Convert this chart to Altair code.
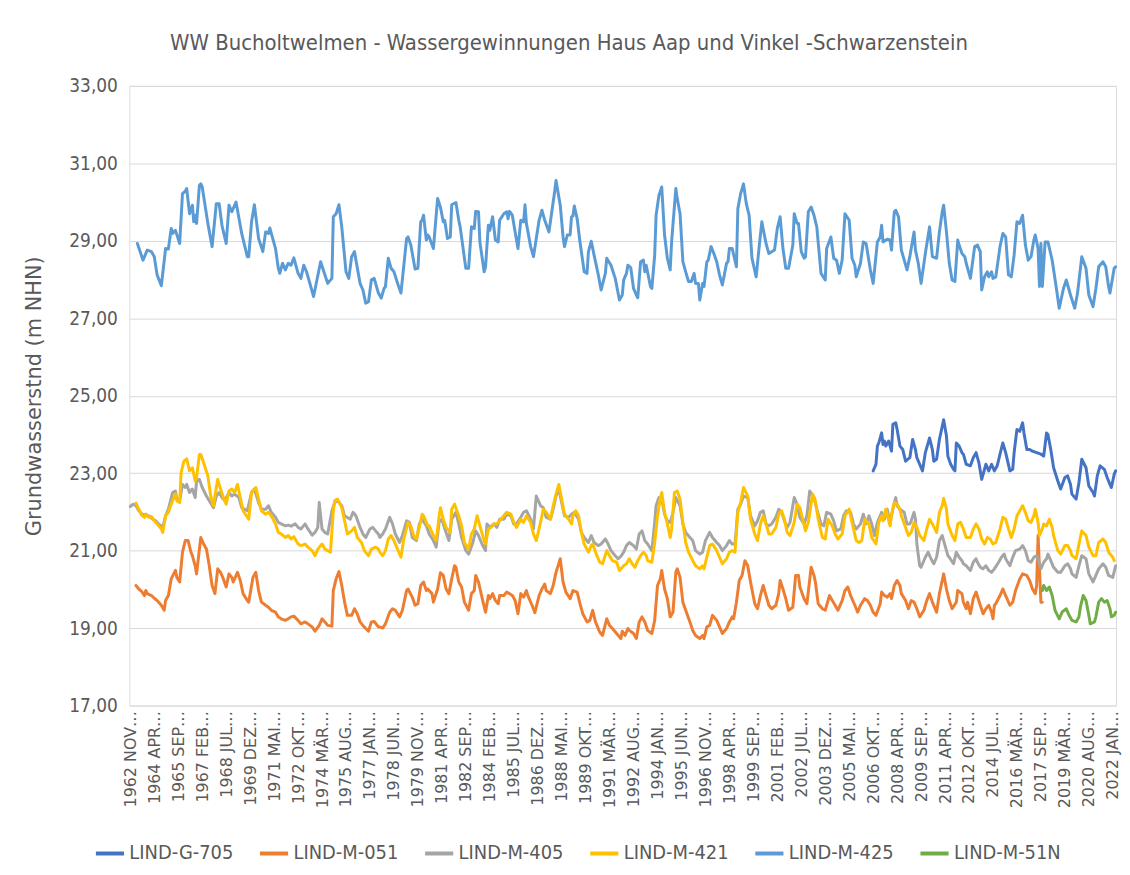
import altair as alt
import pandas as pd

TITLE = "WW Bucholtwelmen - Wassergewinnungen Haus Aap und Vinkel -Schwarzenstein"
Y_TITLE = "Grundwasserstnd (m NHN)"

X_LABELS = [
    "1962 NOV…", "1964 APR…", "1965 SEP…", "1967 FEB…", "1968 JUL…", "1969 DEZ…",
    "1971 MAI…", "1972 OKT…", "1974 MÄR…", "1975 AUG…", "1977 JAN…", "1978 JUN…",
    "1979 NOV…", "1981 APR…", "1982 SEP…", "1984 FEB…", "1985 JUL…", "1986 DEZ…",
    "1988 MAI…", "1989 OKT…", "1991 MÄR…", "1992 AUG…", "1994 JAN…", "1995 JUN…",
    "1996 NOV…", "1998 APR…", "1999 SEP…", "2001 FEB…", "2002 JUL…", "2003 DEZ…",
    "2005 MAI…", "2006 OKT…", "2008 APR…", "2009 SEP…", "2011 APR…", "2012 OKT…",
    "2014 JUL…", "2016 MÄR…", "2017 SEP…", "2019 MÄR…", "2020 AUG…", "2022 JAN…",
]
LABEL_STEP = 17  # every 17th measurement is labelled

SERIES = ["LIND-G-705", "LIND-M-051", "LIND-M-405", "LIND-M-421", "LIND-M-425", "LIND-M-51N"]
COLORS = ["#4472C4", "#ED7D31", "#A5A5A5", "#FFC000", "#5B9BD5", "#70AD47"]

# (measurement index, groundwater level m NHN)
G705 = [(527,23.06),(529,23.23),(530,23.70),(531,23.78),(533,24.04),(534,23.74),(535,23.83),(536,23.70),(538,23.83),(540,23.57),(541,24.26),(543,24.30),(544,24.13),(546,23.70),(548,23.61),(550,23.31),(553,23.40),(555,23.87),(557,23.61),(558,23.40),(560,23.23),(562,23.06),(564,23.53),(566,23.78),(567,23.91),(569,23.61),(570,23.31),(572,23.36),(574,23.87),(576,24.21),(577,24.38),(579,23.96),(580,23.44),(582,23.23),(584,23.10),(585,23.06),(586,23.78),(588,23.70),(590,23.53),(591,23.49),(593,23.23),(596,23.19),(598,23.40),(600,23.53),(602,23.27),(604,22.84),(605,22.97),(607,23.23),(609,23.06),(611,23.23),(613,23.06),(615,23.19),(617,23.49),(619,23.78),(621,23.53),(624,23.06),(626,23.10),(627,23.53),(629,24.13),(631,24.08),(633,24.30),(634,24.04),(636,23.61),(638,23.61),(640,23.57),(643,23.53),(646,23.49),(648,23.44),(650,24.04),(651,24.00),(653,23.61),(655,23.14),(658,22.80),(660,22.59),(663,22.89),(665,22.93),(667,22.71),(668,22.46),(671,22.33),(673,22.76),(675,23.36),(678,23.14),(680,22.67),(683,22.50),(684,22.41),(686,22.93),(688,23.19),(691,23.10),(693,22.89),(695,22.71),(696,22.63),(698,22.97),(699,23.06)]

M051 = [(4,20.10),(6,20.01),(8,19.95),(10,19.84),(11,19.97),(12,19.89),(15,19.84),(17,19.77),(19,19.71),(22,19.59),(24,19.46),(25,19.71),(27,19.84),(29,20.27),(32,20.49),(33,20.31),(35,20.19),(37,20.96),(39,21.26),(41,21.26),(43,20.96),(44,20.87),(46,20.61),(47,20.40),(49,21.04),(50,21.34),(52,21.17),(54,21.04),(56,20.61),(58,20.10),(60,19.89),(62,20.53),(64,20.44),(66,20.27),(68,20.06),(70,20.40),(72,20.31),(73,20.19),(76,20.44),(78,20.23),(80,19.89),(83,19.71),(84,19.67),(87,20.31),(89,20.44),(91,19.97),(93,19.67),(96,19.59),(98,19.54),(100,19.46),(103,19.41),(105,19.29),(107,19.24),(110,19.20),(112,19.24),(114,19.29),(116,19.31),(119,19.20),(121,19.11),(124,19.16),(126,19.11),(129,19.03),(131,18.92),(134,19.07),(136,19.24),(138,19.16),(140,19.07),(143,19.05),(144,19.97),(146,20.27),(148,20.46),(150,20.10),(152,19.67),(154,19.33),(157,19.33),(159,19.50),(161,19.37),(163,19.16),(165,19.07),(167,18.99),(169,18.92),(171,19.16),(173,19.17),(176,19.03),
        (177,19.03),(179,19.00),(181,19.11),(184,19.41),(186,19.50),(188,19.46),(191,19.29),(193,19.46),(196,19.97),(197,20.01),(200,19.80),(202,19.59),(204,19.63),(206,20.10),(208,20.19),(210,19.97),(211,20.01),(214,19.89),(215,19.67),(218,20.01),(220,20.43),(222,20.36),(224,20.01),(226,19.89),(228,20.27),(230,20.61),(231,20.57),(233,20.19),(235,20.06),(237,19.67),(240,19.46),(242,19.89),(244,19.97),(245,20.36),(247,20.19),(250,19.71),(252,19.41),(254,19.84),(255,19.76),(257,19.89),(259,19.71),(261,19.63),(262,19.84),(265,19.84),(267,19.93),(269,19.89),(271,19.84),(273,19.71),(275,19.37),(277,19.89),(279,19.80),(281,19.97),(282,19.84),(285,19.59),(287,19.40),(290,19.84),(292,20.01),(294,20.14),(295,19.97),(298,19.89),(300,20.10),(302,20.44),(305,20.79),(307,20.19),(309,19.93),(312,19.76),(314,19.97),(317,19.93),(319,19.63),(321,19.37),(324,19.16),(326,19.20),(328,19.46),(330,19.16),(333,18.90),(335,18.81),(338,19.24),(340,19.07),(342,18.99),(345,18.86),(348,18.73),
        (349,18.92),(351,18.81),(353,18.99),(354,18.94),(357,18.86),(359,18.73),(361,19.16),(363,19.29),(365,19.16),(367,18.94),(370,18.86),(372,19.20),(374,20.10),(376,20.27),(377,20.49),(379,20.01),(381,19.76),(383,19.29),(385,19.41),(387,20.44),(388,20.53),(390,20.31),(392,19.67),(394,19.46),(397,19.16),(399,18.94),(401,18.81),(404,18.73),(406,18.81),(407,18.73),(409,19.03),(411,19.07),(413,19.33),(416,19.20),(418,19.03),(420,18.86),(423,18.99),(425,19.16),(427,19.29),(428,19.24),(430,19.67),(432,20.23),(434,20.36),(436,20.74),(438,20.61),(440,20.19),(443,19.63),(445,19.50),(447,19.84),(449,20.10),(451,19.84),(453,19.59),(455,19.50),(458,19.59),(460,19.89),(461,20.23),(463,20.01),(465,19.76),(467,19.46),(470,19.54),(472,20.36),(474,20.36),(475,20.06),(478,19.76),(480,19.63),(483,20.57),(485,20.36),(486,20.19),(488,19.63),(491,19.50),(493,19.46),(496,19.84),(498,19.71),(500,19.59),(502,19.46),(505,19.71),(507,19.97),(509,20.06),(511,19.84),(514,19.59),(516,19.41),(518,19.59),(521,19.76),
        (523,19.71),(525,19.59),(527,19.41),(529,19.33),(532,19.63),(533,19.93),(535,19.84),(537,19.80),(539,19.89),(540,19.76),(542,20.10),(544,20.23),(546,20.10),(547,19.89),(550,19.71),(552,19.50),(554,19.71),(556,19.67),(558,19.50),(560,19.29),(563,19.46),(565,19.71),(567,19.89),(569,19.67),(572,19.41),(574,19.89),(576,20.23),(577,20.40),(579,20.01),(581,19.71),(583,19.50),(586,19.67),(587,19.97),(590,19.89),(591,19.67),(593,19.50),(594,19.67),(596,19.37),(598,19.76),(600,19.93),(603,19.59),(605,19.37),(607,19.50),(609,19.59),(611,19.41),(612,19.24),(613,19.59),(614,19.63),(617,19.84),(619,20.01),(621,19.84),(624,19.59),(626,19.67),(628,19.97),(631,20.27),(633,20.40),(636,20.36),(638,20.23),(640,20.01),(642,19.89),(643,20.10),(644,21.39),(646,19.67),(647,19.67)]

M405 = [(0,22.14),(2,22.20),(4,22.16),(6,22.03),(9,21.92),(11,21.94),(13,21.90),(16,21.81),(18,21.77),(20,21.69),(23,21.60),(25,21.90),(27,22.07),(30,22.50),(32,22.54),(33,22.33),(35,22.29),(37,22.71),(39,22.63),(40,22.71),(42,22.50),(44,22.59),(46,22.37),(47,22.80),(49,22.84),(51,22.63),(54,22.41),(56,22.29),(59,22.11),(61,22.41),(63,22.50),(65,22.37),(67,22.29),(70,22.50),(72,22.41),(74,22.46),(77,22.37),(79,22.11),(83,22.03),(86,22.50),(88,22.59),(91,22.24),(93,22.07),(96,22.07),(98,22.16),(100,21.99),(103,21.86),(105,21.73),(107,21.69),(110,21.64),(112,21.66),(114,21.63),(117,21.69),(119,21.60),(121,21.56),(124,21.69),(126,21.56),(129,21.40),(131,21.47),(133,21.60),(134,22.24),(136,21.56),(138,21.47),(140,21.43),(143,22.03),(145,22.24),(147,22.29),(150,22.16),(152,21.90),(156,21.81),(158,21.99),(160,21.90),(163,21.60),(165,21.43),(167,21.34),(170,21.56),(172,21.60),(174,21.51),(176,21.43),
        (177,21.34),(179,21.43),(181,21.56),(184,21.86),(186,21.69),(188,21.43),(191,21.21),(193,21.39),(196,21.77),(198,21.73),(200,21.34),(203,21.26),(205,21.69),(207,21.81),(210,21.64),(212,21.43),(215,21.26),(217,21.09),(219,21.73),(221,21.81),(224,21.47),(226,21.26),(228,21.81),(231,21.99),(233,21.69),(235,21.34),(238,21.00),(240,20.91),(243,21.21),(245,21.51),(247,21.39),(250,21.13),(252,21.00),(253,21.69),(255,21.60),(258,21.69),(260,21.60),(262,21.81),(265,21.81),(267,21.94),(270,21.90),(272,21.69),(274,21.69),(277,21.86),(279,21.99),(281,22.03),(284,21.81),(286,21.56),(288,22.41),(291,22.16),(293,22.11),(295,21.86),(298,21.81),(300,22.07),(302,22.41),(304,22.59),(306,22.24),(308,21.90),(311,21.86),(313,21.94),(315,21.99),(318,21.81),(320,21.47),(322,21.34),(325,21.21),(327,21.39),(329,21.21),(332,21.13),(334,21.17),(337,21.30),(339,21.17),(341,21.00),(344,20.87),(346,20.79),(348,20.85),
        (350,20.96),(352,21.13),(354,21.21),(357,21.13),(359,21.04),(361,21.43),(363,21.51),(365,21.26),(367,21.17),(370,21.00),(372,21.73),(373,22.16),(375,22.37),(377,22.33),(379,21.94),(381,21.77),(383,21.73),(385,21.99),(387,22.37),(390,22.16),(392,21.69),(394,21.47),(397,21.34),(399,21.26),(401,21.00),(404,20.91),(406,20.96),(408,21.26),(411,21.47),(413,21.34),(416,21.21),(418,21.13),(420,21.00),(423,21.13),(425,21.26),(427,21.17),(429,21.17),(431,22.07),(433,22.20),(435,22.41),(438,22.37),(440,21.90),(443,21.64),(445,21.77),(447,21.99),(449,22.03),(451,21.69),(453,21.64),(455,21.69),(458,21.86),(460,22.07),(462,21.99),(464,21.77),(466,21.60),(468,21.73),(471,22.37),(473,22.20),(475,21.86),(478,21.69),(480,21.90),(482,22.54),(485,22.37),(487,22.07),(490,21.69),(492,21.64),(494,21.99),(497,21.94),(499,21.77),(501,21.51),(504,21.56),(506,21.90),(508,22.03),(511,21.99),(513,21.69),(515,21.56),(518,21.69),(520,21.94),
        (522,21.69),(524,21.90),(526,21.69),(528,21.39),(530,21.73),(532,21.90),(533,21.99),(535,21.81),(537,22.07),(539,21.69),(540,21.90),(542,22.24),(543,22.37),(544,22.16),(546,22.07),(549,21.99),(551,21.69),(553,21.69),(554,21.77),(556,21.99),(557,21.81),(558,21.17),(560,20.61),(561,20.57),(564,20.83),(566,20.96),(568,20.79),(570,20.66),(572,20.83),(574,21.26),(576,21.39),(578,21.13),(580,20.87),(581,20.83),(584,20.66),(586,20.96),(588,20.83),(590,20.74),(591,20.66),(593,20.61),(596,20.49),(598,20.70),(600,20.79),(601,20.70),(603,20.57),(605,20.53),(607,20.61),(609,20.49),(611,20.44),(613,20.53),(616,20.70),(618,20.83),(620,20.91),(621,20.79),(624,20.61),(626,20.83),(628,21.00),(631,21.04),(633,21.13),(635,21.00),(637,20.74),(639,20.70),(641,20.83),(643,20.87),(644,20.79),(646,20.53),(648,20.70),(650,20.79),(651,20.91),(653,20.74),(655,20.57),(658,20.44),(660,20.44),(663,20.61),(665,20.66),(667,20.53),(668,20.40),(671,20.31),(673,20.61),(675,20.87),(678,20.79),(680,20.40),(683,20.19),(685,20.36),(687,20.53),(690,20.66),(692,20.57),(694,20.36),(697,20.31),(699,20.61)]

M421 = [(4,22.23),(6,22.07),(8,21.92),(10,21.86),(11,21.94),(13,21.86),(15,21.88),(17,21.77),(19,21.69),(22,21.56),(23,21.47),(25,21.90),(27,21.99),(29,22.20),(32,22.46),(33,22.29),(35,22.24),(36,23.01),(38,23.31),(40,23.37),(42,23.06),(44,23.14),(46,22.80),(47,22.89),(49,23.48),(50,23.48),(52,23.27),(55,22.93),(57,22.41),(59,22.16),(61,22.63),(62,22.84),(64,22.59),(66,22.37),(68,22.20),(70,22.54),(72,22.59),(74,22.50),(76,22.71),(78,22.37),(80,22.03),(84,21.81),(86,22.50),(89,22.63),(91,22.33),(93,22.03),(96,21.94),(98,21.99),(100,21.90),(103,21.69),(105,21.47),(107,21.43),(110,21.34),(112,21.39),(114,21.30),(116,21.36),(119,21.17),(121,21.13),(124,21.17),(126,21.09),(129,21.00),(131,20.87),(133,21.04),(136,21.17),(138,21.04),(140,21.00),(142,20.96),(144,22.03),(145,22.29),(147,22.33),(150,22.11),(152,21.77),(154,21.43),(157,21.51),(159,21.60),(161,21.34),(164,21.21),(166,21.00),(169,20.87),(171,21.04),(174,21.09),(176,21.04),
        (177,20.96),(179,20.87),(181,21.00),(183,21.30),(185,21.39),(187,21.26),(190,21.00),(192,20.83),(194,21.30),(197,21.73),(199,21.64),(201,21.39),(203,21.30),(205,21.60),(207,21.94),(208,21.90),(211,21.64),(212,21.64),(215,21.39),(217,21.26),(219,21.86),(220,22.11),(222,21.81),(224,21.60),(227,21.47),(228,22.07),(230,22.20),(233,21.90),(235,21.64),(237,21.21),(240,21.04),(242,21.43),(244,21.56),(246,21.90),(248,21.64),(251,21.26),(252,21.17),(254,21.56),(256,21.60),(258,21.69),(260,21.69),(262,21.77),(265,21.90),(267,21.99),(270,21.94),(272,21.73),(274,21.60),(277,21.81),(279,21.73),(281,21.90),(284,21.73),(286,21.43),(288,21.26),(291,21.73),(293,22.07),(295,21.99),(298,21.81),(300,22.16),(302,22.46),(304,22.71),(306,22.33),(308,21.94),(311,21.81),(313,21.69),(314,21.90),(316,22.03),(318,21.90),(320,21.47),(322,21.17),(325,20.96),(327,21.13),(328,21.17),(331,20.87),(333,20.70),(335,20.66),(338,21.00),(340,20.87),(342,20.74),(345,20.70),(347,20.49),
        (350,20.61),(352,20.66),(354,20.79),(356,20.66),(358,20.57),(360,20.74),(362,20.87),(364,20.96),(366,20.87),(367,20.74),(370,20.70),(372,21.21),(374,21.90),(376,22.37),(377,22.50),(379,21.99),(381,21.69),(383,21.34),(384,21.56),(386,22.50),(388,22.54),(390,22.33),(392,21.73),(394,21.21),(396,20.96),(399,20.74),(401,20.61),(404,20.53),(406,20.61),(407,20.53),(409,20.83),(411,21.13),(413,21.17),(416,21.00),(418,20.83),(420,20.66),(423,20.79),(425,20.96),(427,21.00),(429,20.96),(431,21.99),(433,22.24),(435,22.63),(438,22.41),(440,21.81),(443,21.43),(445,21.26),(447,21.69),(449,21.90),(451,21.69),(453,21.43),(455,21.43),(458,21.60),(460,21.94),(462,22.03),(464,21.81),(466,21.47),(468,21.39),(471,21.73),(473,22.20),(475,22.11),(477,21.81),(479,21.51),(481,21.73),(484,22.46),(486,22.29),(488,21.81),(491,21.34),(493,21.30),(495,21.81),(498,21.64),(500,21.43),(502,21.30),(505,21.43),(507,21.90),(510,22.07),(512,21.73),(515,21.26),(517,21.21),(519,21.26),(521,21.81),
        (522,21.77),(524,21.69),(526,21.34),(529,21.17),(531,21.73),(533,21.90),(534,21.77),(536,22.07),(539,21.64),(540,21.94),(542,22.24),(544,22.20),(546,22.07),(547,21.90),(550,21.60),(552,21.39),(554,21.47),(556,21.73),(558,21.60),(560,21.39),(563,21.26),(565,21.56),(567,21.81),(569,21.69),(572,21.47),(574,21.99),(576,22.16),(577,22.35),(579,22.07),(580,21.69),(583,21.39),(585,21.26),(587,21.69),(589,21.73),(591,21.56),(593,21.34),(596,21.34),(598,21.56),(600,21.69),(602,21.56),(604,21.30),(606,21.17),(608,21.34),(610,21.30),(612,21.17),(614,21.21),(617,21.56),(619,21.86),(621,21.81),(623,21.56),(625,21.34),(627,21.56),(629,21.90),(631,22.03),(633,22.16),(635,21.99),(637,21.77),(639,21.73),(641,21.90),(642,22.07),(644,21.73),(645,21.39),(647,21.56),(648,21.69),(650,21.64),(652,21.81),(654,21.60),(655,21.39),(658,21.00),(660,20.91),(663,21.13),(665,21.13),(667,21.00),(668,20.87),(671,20.79),(673,21.17),(675,21.51),(678,21.39),(680,21.09),(683,20.87),(685,20.87),(687,21.21),(690,21.30),(692,21.21),(694,20.96),(697,20.83),(698,20.74)]

M425 = [(5,28.93),(9,28.50),(12,28.76),(15,28.72),(17,28.59),(19,28.12),(22,27.84),(25,28.80),(27,28.79),(29,29.32),(30,29.19),(32,29.27),(35,28.93),(37,30.22),(39,30.28),(40,30.35),(42,29.70),(44,29.92),(45,29.49),(46,29.66),(47,29.45),(49,30.43),(50,30.47),(51,30.39),(55,29.45),(58,28.85),(61,29.96),(63,29.96),(65,29.40),(68,28.93),(70,29.92),(72,29.75),(75,30.00),(79,29.19),(83,28.59),(84,28.59),(86,29.49),(88,29.93),(91,29.06),(94,28.72),(96,29.23),(98,29.19),(99,29.33),(103,28.80),(105,28.29),(106,28.16),(108,28.42),(110,28.25),(112,28.42),(114,28.37),(116,28.56),(119,28.16),(121,28.03),(123,28.37),(125,28.20),(127,27.95),(130,27.56),(135,28.46),(140,27.90),(143,28.03),(144,29.62),(146,29.70),(148,29.93),(150,29.36),(153,28.20),(155,28.03),(157,28.59),(159,28.72),(163,27.90),(165,27.73),(167,27.39),(169,27.43),(171,27.99),(173,28.03),(176,27.65),
        (178,27.52),(180,27.77),(181,27.82),(183,28.55),(185,28.29),(187,28.20),(190,27.86),(192,27.65),(196,29.06),(197,29.10),(199,28.89),(202,28.27),(204,28.29),(206,29.49),(207,29.53),(208,29.66),(210,29.02),(211,29.15),(212,29.10),(215,28.80),(218,30.09),(220,29.87),(222,29.49),(223,29.53),(225,29.06),(227,29.10),(228,29.93),(231,29.99),(233,29.53),(234,29.36),(238,28.29),(240,28.29),(242,29.36),(244,29.32),(245,29.76),(247,29.75),(248,28.97),(251,28.20),(252,28.33),(254,29.40),(255,29.27),(257,29.62),(259,29.02),(261,28.97),(262,29.53),(265,29.70),(267,29.75),(268,29.57),(269,29.76),(271,29.66),(273,29.23),(275,28.80),(277,29.53),(279,29.49),(280,29.93),(281,29.45),(284,28.85),(286,28.59),(288,29.06),(290,29.53),(292,29.79),(294,29.53),(297,29.23),(299,29.75),(301,30.26),(302,30.56),(305,29.92),(307,29.10),(308,28.85),(310,29.15),(312,29.15),(313,29.62),(314,29.64),(315,29.90),(317,29.57),(319,28.97),(322,28.20),(324,28.16),(325,28.72),(327,28.99),(329,28.63),(332,28.12),(334,27.73),(337,28.16),(338,28.55),(341,28.37),(344,28.03),(347,27.47),
        (349,27.60),(350,27.99),(352,28.16),(353,28.37),(355,28.31),(357,27.77),(359,27.60),(360,27.53),(362,28.46),(364,28.50),(365,28.20),(366,28.37),(369,27.82),(370,27.77),(372,28.63),(373,29.66),(375,30.17),(377,30.39),(379,29.15),(381,28.55),(383,28.25),(384,28.97),(387,30.35),(388,30.09),(390,29.70),(392,28.46),(394,28.20),(396,27.95),(398,27.95),(400,28.16),(401,27.90),(403,27.90),(404,27.47),(406,27.90),(407,27.82),(409,28.46),(410,28.50),(412,28.85),(414,28.67),(416,28.46),(418,28.12),(420,27.86),(423,28.42),(424,28.46),(425,28.80),(427,28.80),(430,28.33),(431,29.83),(433,30.22),(435,30.47),(437,29.96),(439,29.66),(441,28.55),(444,28.07),(446,28.80),(448,29.49),(451,28.93),(453,28.67),(457,28.76),(459,29.32),(461,29.62),(463,28.80),(465,28.29),(467,28.29),(470,28.89),(471,29.70),(473,29.45),(474,29.45),(476,28.72),(478,28.55),(479,28.59),(481,29.75),(483,29.87),(485,29.66),(487,29.36),(490,28.16),(493,27.99),(494,28.80),(497,29.10),(499,28.55),(501,28.50),(503,28.16),(505,28.50),(507,29.70),(510,29.53),(512,28.55),(514,28.37),(515,28.07),(518,28.42),(520,28.97),
        (522,28.93),(525,28.25),(527,27.90),(530,28.97),(532,29.10),(533,29.40),(534,28.97),(537,29.04),(539,29.02),(540,28.76),(542,29.75),(543,29.79),(545,29.62),(547,28.76),(551,28.25),(553,28.59),(556,29.23),(557,28.76),(559,28.42),(561,27.90),(564,28.67),(567,29.36),(569,28.59),(572,28.55),(574,29.23),(576,29.75),(577,29.92),(579,29.23),(581,28.42),(583,27.99),(585,27.95),(587,29.02),(588,28.89),(590,28.67),(592,28.59),(593,28.42),(596,28.03),(599,28.85),(601,28.89),(603,28.72),(604,27.73),(606,28.07),(608,28.20),(609,28.07),(611,28.20),(612,28.03),(614,28.07),(617,28.85),(619,29.19),(621,29.10),(623,28.12),(625,28.07),(627,28.63),(629,29.49),(631,29.45),(633,29.66),(635,28.89),(637,28.50),(639,28.59),(641,29.02),(642,29.15),(644,28.80),(645,27.82),(646,28.93),(647,27.82),(649,28.97),(651,28.97),(654,28.50),(657,27.77),(659,27.26),(662,27.77),(664,27.99),(667,27.60),(670,27.26),(672,27.65),(675,28.59),(678,28.29),(680,27.60),(683,27.30),(685,27.77),(687,28.33),(690,28.46),(692,28.33),(694,27.82),(695,27.65),(698,28.29),(699,28.33)]

M51N = [(647,19.97),(648,20.10),(650,19.97),(652,20.06),(654,19.84),(656,19.46),(659,19.24),(661,19.41),(664,19.50),(666,19.33),(668,19.20),(671,19.16),(673,19.29),(674,19.54),(676,19.84),(678,19.71),(680,19.33),(681,19.11),(684,19.16),(685,19.29),(687,19.67),(689,19.76),(691,19.67),(693,19.71),(695,19.50),(696,19.29),(698,19.33),(699,19.41)]

DATA = [G705, M051, M405, M421, M425, M51N]

rows = []
for name, pts in zip(SERIES, DATA):
    for idx, val in pts:
        rows.append({"Messstelle": name, "idx": idx, "wert": val})
df = pd.DataFrame(rows)

label_array = "[" + ",".join('"' + s + '"' for s in X_LABELS) + "]"
tick_vals = [i * LABEL_STEP for i in range(len(X_LABELS))]

TEXT = "#595959"
NARROW = "DejaVu Sans Condensed, Liberation Sans, Arial, sans-serif"

chart = (
    alt.Chart(df)
    .mark_line(strokeWidth=3, strokeJoin="round", strokeCap="round")
    .encode(
        x=alt.X(
            "idx:Q",
            title=None,
            scale=alt.Scale(domain=[-0.7, 699.3], nice=False, zero=False),
            axis=alt.Axis(
                values=tick_vals,
                labelExpr=label_array + "[round(datum.value / " + str(LABEL_STEP) + ")]",
                labelAngle=-90,
                labelFont="DejaVu Sans",
                labelFontSize=16,
                labelColor=TEXT,
                labelPadding=5,
                labelOverlap=False,
                labelFlush=False,
                labelLimit=300,
                ticks=False,
                domain=False,
                grid=False,
            ),
        ),
        y=alt.Y(
            "wert:Q",
            scale=alt.Scale(domain=[17, 33], nice=False, zero=False),
            axis=alt.Axis(
                values=list(range(17, 34, 2)),
                labelExpr="replace(format(datum.value, '.2f'), '.', ',')",
                title=Y_TITLE,
                titleFont="DejaVu Sans",
                titleFontSize=21,
                titleFontWeight="normal",
                titleColor=TEXT,
                titlePadding=24,
                labelFont=NARROW,
                labelFontSize=19,
                labelColor=TEXT,
                labelPadding=12,
                ticks=False,
                domain=False,
                gridColor="#d9d9d9",
                gridWidth=1,
            ),
        ),
        color=alt.Color(
            "Messstelle:N",
            scale=alt.Scale(domain=SERIES, range=COLORS),
            legend=alt.Legend(
                title=None,
                orient="none",
                legendX=-36,
                legendY=755,
                direction="horizontal",
                columns=6,
                symbolType="stroke",
                symbolSize=800,
                symbolStrokeWidth=4,
                labelFont=NARROW,
                labelFontSize=20,
                labelColor=TEXT,
                labelOffset=3,
                labelLimit=200,
                columnPadding=18,
            ),
        ),
    )
    .properties(
        width=992,
        height=623,
        title=alt.TitleParams(
            text=TITLE,
            font=NARROW,
            fontSize=22,
            fontWeight="normal",
            color=TEXT,
            anchor="middle",
            dx=-54,
            offset=22,
        ),
        autosize=alt.AutoSizeParams(type="none"),
        padding={"left": 122, "top": 76, "right": 6, "bottom": 158},
    )
    .configure_view(stroke="#d9d9d9", strokeWidth=1)
    .configure(background="white")
)

chart.save("out.html", embed_options={"renderer": "svg", "actions": False})
